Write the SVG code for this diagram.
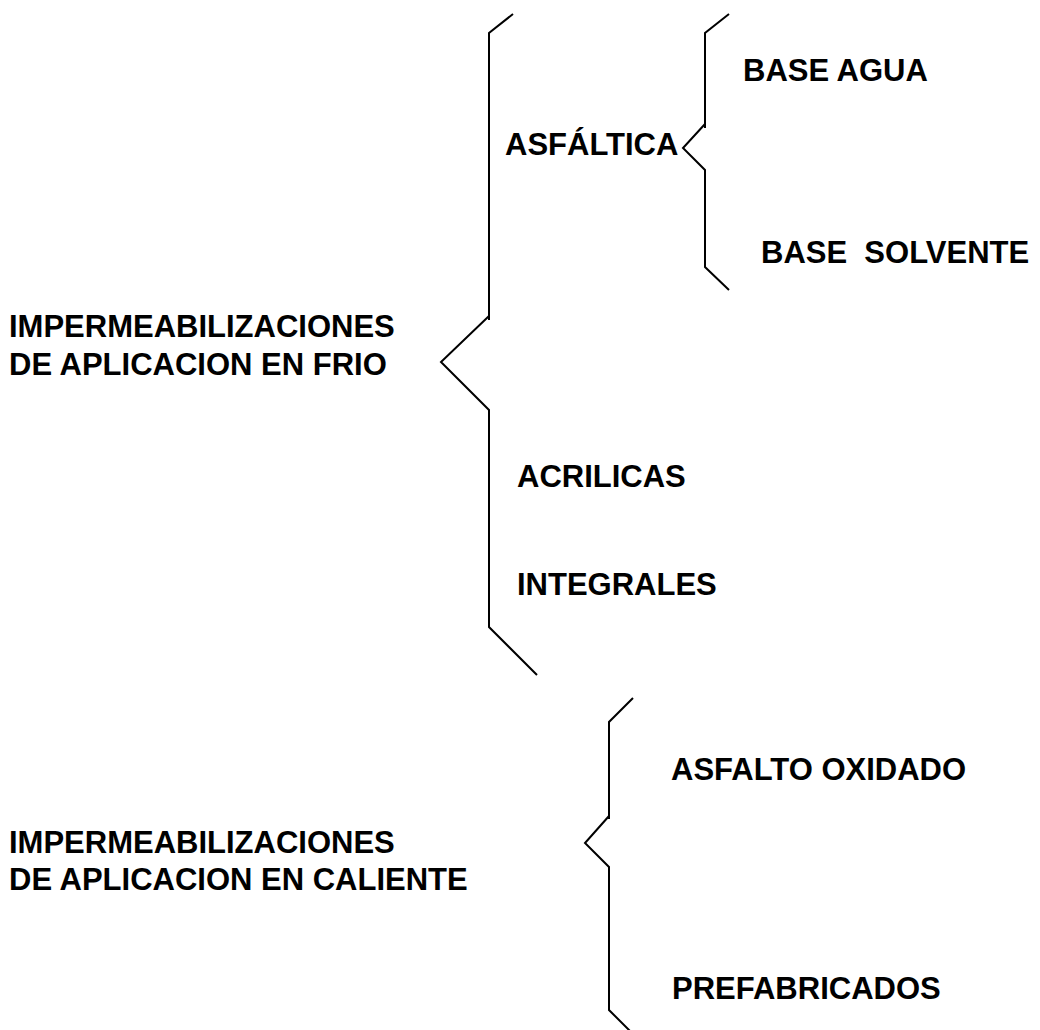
<svg xmlns="http://www.w3.org/2000/svg" width="1040" height="1030" viewBox="0 0 1040 1030">
<style>
  .t { font-family: "Liberation Sans", Arial, sans-serif; font-weight: bold; font-size: 31px; fill: #000; white-space: pre; }
  .b { fill: none; stroke: #000; stroke-width: 2; stroke-linejoin: miter; }
</style>
<rect width="1040" height="1030" fill="#fff"/>
<g id="connectors">
  <polyline class="b" points="513,14 489,33 489,320"/>
  <polyline class="b" points="489,316 441,362 489,410 489,627 537,675"/>
  <polyline class="b" points="729,14 705,33 705,128"/>
  <polyline class="b" points="705,124 683,148 705,170 705,267 729,290"/>
  <polyline class="b" points="633,698 609,722 609,819"/>
  <polyline class="b" points="609,816 585,843 609,867 609,1010 631,1032"/>
</g>
<g id="node-frio">
  <text class="t" x="9" y="337">IMPERMEABILIZACIONES</text>
  <text class="t" x="9" y="375">DE APLICACION EN FRIO</text>
</g>
<g id="node-asfaltica">
  <text class="t" x="505" y="155">ASFÁLTICA</text>
</g>
<g id="node-base-agua">
  <text class="t" x="743" y="81">BASE AGUA</text>
</g>
<g id="node-base-solvente">
  <text class="t" x="761" y="263">BASE  SOLVENTE</text>
</g>
<g id="node-acrilicas">
  <text class="t" x="517" y="487">ACRILICAS</text>
</g>
<g id="node-integrales">
  <text class="t" x="517" y="595">INTEGRALES</text>
</g>
<g id="node-caliente">
  <text class="t" x="9" y="853">IMPERMEABILIZACIONES</text>
  <text class="t" x="9" y="890">DE APLICACION EN CALIENTE</text>
</g>
<g id="node-asfalto-oxidado">
  <text class="t" x="671" y="780">ASFALTO OXIDADO</text>
</g>
<g id="node-prefabricados">
  <text class="t" x="672" y="999">PREFABRICADOS</text>
</g>
</svg>
